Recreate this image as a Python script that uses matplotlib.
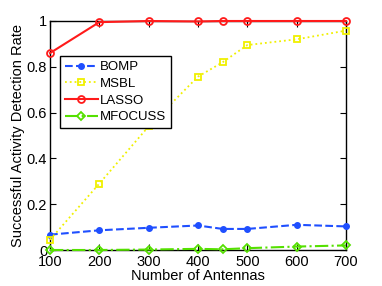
import matplotlib
matplotlib.use("Agg")
import matplotlib.pyplot as plt

plt.rcParams['font.family'] = ['Liberation Sans', 'DejaVu Sans']

antennas = [100, 200, 300, 400, 450, 500, 600, 700]
bomp = [0.067, 0.086, 0.097, 0.107, 0.092, 0.092, 0.110, 0.103]
msbl = [0.045, 0.29, 0.54, 0.757, 0.82, 0.895, 0.92, 0.958]
lasso = [0.86, 0.995, 1.0, 0.998, 1.0, 1.0, 1.0, 1.0]
mfocuss = [0.0, 0.0, 0.002, 0.005, 0.003, 0.008, 0.015, 0.02]

xticks = [100, 200, 300, 400, 500, 600, 700]
yticks = [0, 0.2, 0.4, 0.6, 0.8, 1.0]
yticklabels = ['0', '0.2', '0.4', '0.6', '0.8', '1']

fig = plt.figure(figsize=(3.82, 2.86), dpi=100)
ax = fig.add_axes([50/382, 1-250/286, 296/382, 229/286])

ax.plot(antennas, bomp, '--', color='#1f4fff', marker='o', markersize=4,
        linewidth=1.5, label='BOMP', clip_on=False, zorder=3)
ax.plot(antennas, msbl, ':', color='#f0f000', marker='s', markersize=5,
        markerfacecolor='none', markeredgewidth=1.3, linewidth=1.3, label='MSBL',
        clip_on=False, zorder=3)
ax.plot(antennas, lasso, '-', color='#ff1a1a', marker='o', markersize=5,
        markerfacecolor='none', markeredgewidth=1.3, linewidth=1.5, label='LASSO',
        clip_on=False, zorder=4)
ax.plot(antennas, mfocuss, '-.', color='#55e000', marker='D', markersize=4.5,
        markerfacecolor='none', markeredgewidth=1.3, linewidth=1.5, label='MFOCUSS',
        clip_on=False, zorder=4)

ax.set_xlim(100, 700)
ax.set_ylim(0, 1)
ax.set_xticks(xticks)
ax.set_yticks(yticks)
ax.set_yticklabels(yticklabels)
ax.tick_params(direction='in', top=True, right=True, labelsize=10.5, length=4)
ax.tick_params(axis='x', pad=3.5)
ax.tick_params(axis='y', pad=2)
for s in ax.spines.values():
    s.set_linewidth(1.0)
ax.set_xlabel('Number of Antennas', fontsize=10.5, labelpad=0)
ax.set_ylabel('Successful Activity Detection Rate', fontsize=10.5, labelpad=1)

leg = ax.legend(loc='upper left', bbox_to_anchor=(0.034, 0.845), fontsize=9.5,
                frameon=True, fancybox=False, edgecolor='black', framealpha=1,
                handlelength=2.5, borderpad=0.35, labelspacing=0.33, handletextpad=0.2,
                borderaxespad=0)
leg.get_frame().set_linewidth(1.0)
leg.set_zorder(10)

fig.savefig('out.png', dpi=100)
